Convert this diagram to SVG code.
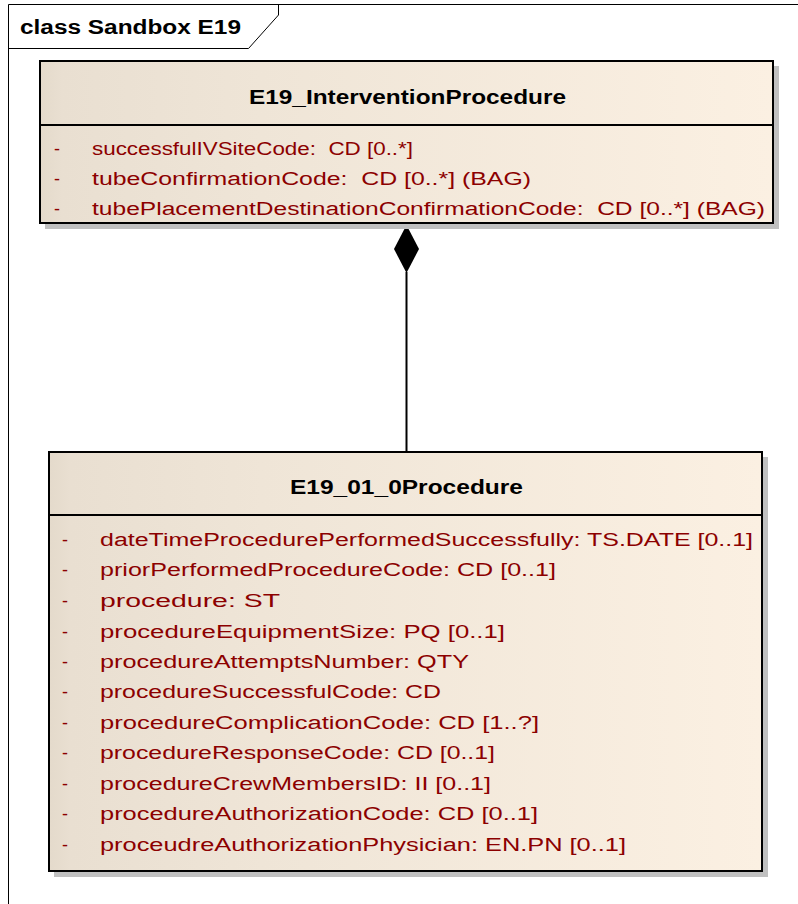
<svg xmlns="http://www.w3.org/2000/svg" width="798" height="904" viewBox="0 0 798 904">
<defs>
<linearGradient id="g" x1="0" y1="0" x2="1" y2="0">
<stop offset="0" stop-color="#e4dacb"/>
<stop offset="0.03" stop-color="#e9dfd1"/>
<stop offset="0.3" stop-color="#efe5d7"/>
<stop offset="1" stop-color="#fbf0e2"/>
</linearGradient>
</defs>
<style>
.frame{fill:none;stroke:#000;stroke-width:1}
.box{fill:url(#g);stroke:#000;stroke-width:2}
.shadow{fill:#c0c0c0}
.sep{stroke:#000;stroke-width:2}
.title{font-family:"Liberation Sans",Arial,sans-serif;font-weight:bold;font-size:21px;fill:#000}
.attr{font-family:"Liberation Sans",Arial,sans-serif;font-size:18px;fill:#8c0000;white-space:pre}
.lbl{font-family:"Liberation Sans",Arial,sans-serif;font-weight:bold;font-size:20px;fill:#000}
.conn{stroke:#000;stroke-width:2;fill:none}
</style>
<rect width="798" height="904" fill="#fff"/>
<g id="frame">
<path class="frame" d="M8.5 904 V4.5 H798"/>
<path class="frame" d="M8.5 48.5 H248.5 L278.5 15 V4.5"/>
<text class="lbl" x="20" y="34" textLength="221" lengthAdjust="spacingAndGlyphs">class Sandbox E19</text>
</g>
<g id="connectors">
<line class="conn" x1="406.5" y1="272" x2="406.5" y2="452"/>
<polygon points="406.5,225 419,249 406.5,273 394,249" fill="#000"/>
</g>
<g id="E19_InterventionProcedure">
<rect class="shadow" x="45" y="66" width="734" height="163"/>
<rect class="box" x="40" y="61" width="733" height="162"/>
<line class="sep" x1="40" y1="125" x2="773" y2="125"/>
<text class="title" x="249" y="104" textLength="317" lengthAdjust="spacingAndGlyphs">E19_InterventionProcedure</text>
<text class="attr" x="54" y="155">-</text>
<text class="attr" x="92" y="155" textLength="321" lengthAdjust="spacingAndGlyphs">successfulIVSiteCode:  CD [0..*]</text>
<text class="attr" x="54" y="185">-</text>
<text class="attr" x="92" y="185" textLength="439" lengthAdjust="spacingAndGlyphs">tubeConfirmationCode:  CD [0..*] (BAG)</text>
<text class="attr" x="54" y="215">-</text>
<text class="attr" x="92" y="215" textLength="673" lengthAdjust="spacingAndGlyphs">tubePlacementDestinationConfirmationCode:  CD [0..*] (BAG)</text>
</g>
<g id="E19_01_0Procedure">
<rect class="shadow" x="54" y="457" width="714" height="420"/>
<rect class="box" x="49" y="452" width="713" height="419"/>
<line class="sep" x1="49" y1="515" x2="762" y2="515"/>
<text class="title" x="290" y="494" textLength="233" lengthAdjust="spacingAndGlyphs">E19_01_0Procedure</text>
<g class="attr">
<text x="62" y="546">-</text><text x="100" y="546" textLength="653" lengthAdjust="spacingAndGlyphs">dateTimeProcedurePerformedSuccessfully:  TS.DATE [0..1]</text>
<text x="62" y="576">-</text><text x="100" y="576" textLength="456" lengthAdjust="spacingAndGlyphs">priorPerformedProcedureCode:  CD [0..1]</text>
<text x="62" y="607">-</text><text x="100" y="607" textLength="180" lengthAdjust="spacingAndGlyphs">procedure:  ST</text>
<text x="62" y="638">-</text><text x="100" y="638" textLength="405" lengthAdjust="spacingAndGlyphs">procedureEquipmentSize:  PQ [0..1]</text>
<text x="62" y="668">-</text><text x="100" y="668" textLength="369" lengthAdjust="spacingAndGlyphs">procedureAttemptsNumber:  QTY</text>
<text x="62" y="698">-</text><text x="100" y="698" textLength="341" lengthAdjust="spacingAndGlyphs">procedureSuccessfulCode:  CD</text>
<text x="62" y="729">-</text><text x="100" y="729" textLength="439" lengthAdjust="spacingAndGlyphs">procedureComplicationCode:  CD [1..?]</text>
<text x="62" y="759">-</text><text x="100" y="759" textLength="395" lengthAdjust="spacingAndGlyphs">procedureResponseCode:  CD [0..1]</text>
<text x="62" y="790">-</text><text x="100" y="790" textLength="391" lengthAdjust="spacingAndGlyphs">procedureCrewMembersID:  II [0..1]</text>
<text x="62" y="820">-</text><text x="100" y="820" textLength="438" lengthAdjust="spacingAndGlyphs">procedureAuthorizationCode:  CD [0..1]</text>
<text x="62" y="851">-</text><text x="100" y="851" textLength="526" lengthAdjust="spacingAndGlyphs">proceudreAuthorizationPhysician:  EN.PN [0..1]</text>
</g>
</g>
</svg>
